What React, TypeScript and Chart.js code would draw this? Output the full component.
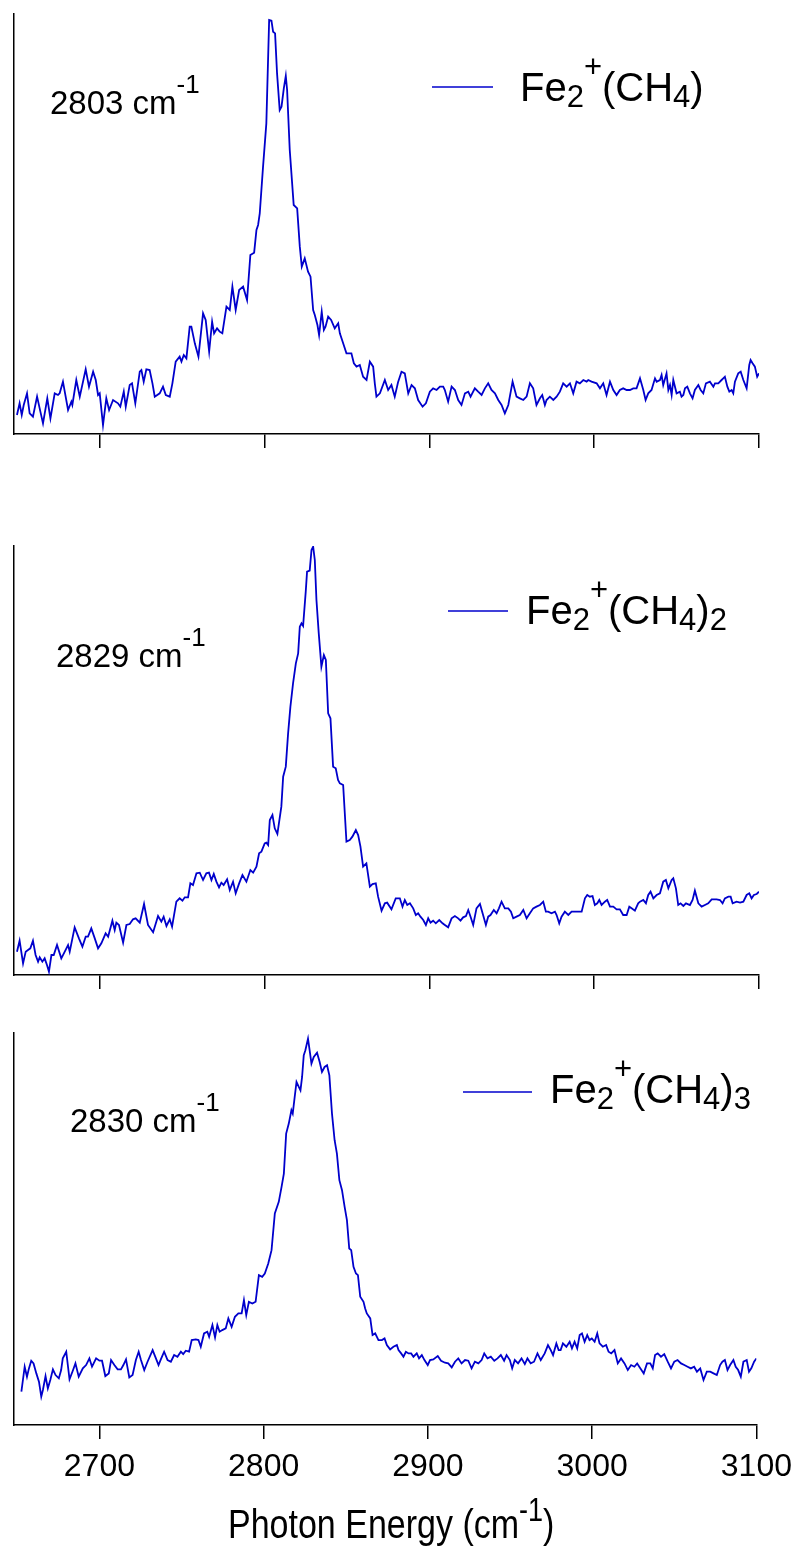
import React, { useEffect, useRef } from "react";
import { Chart, registerables } from "chart.js";

Chart.register(...registerables);

// ---------- data ----------
const X_MIN = 2648;
const X_MAX = 3100;
const X_TICKS = [2700, 2800, 2900, 3000, 3100];
const X_TITLE = "Photon Energy (cm";
const X_TITLE_SUP = "-1";
const X_TITLE_END = ")";

const PEAK_NOTES = ["2803 cm", "2829 cm", "2830 cm"];
const NOTE_SUP = "-1";
const SERIES_SUFFIX = ["", "2", "3"]; // Fe2+(CH4)n

// Panel 1: Fe2+(CH4)
const P1_X = [2649.8,2651.4,2652.7,2653.9,2655.9,2657.5,2659.5,2662.0,2664.0,2665.6,2668.2,2670.1,2672.7,2674.7,2675.7,2677.7,2680.8,2682.8,2683.4,2685.8,2687.9,2691.5,2693.5,2696.0,2697.6,2699.0,2700.0,2702.0,2704.0,2705.7,2708.1,2711.1,2712.5,2714.6,2715.8,2718.2,2719.6,2721.6,2724.3,2725.3,2726.7,2728.3,2730.3,2732.0,2733.4,2736.4,2738.4,2740.1,2742.5,2744.1,2746.1,2748.5,2749.6,2751.0,2752.6,2754.6,2755.6,2757.7,2759.9,2762.7,2764.3,2766.4,2768.2,2769.4,2771.2,2772.8,2774.4,2776.9,2778.9,2780.5,2782.5,2784.6,2787.0,2789.4,2791.4,2793.7,2795.1,2796.1,2797.1,2799.1,2801.1,2802.8,2804.2,2805.2,2806.4,2807.6,2809.2,2810.3,2811.7,2812.9,2813.7,2815.3,2817.7,2819.8,2821.4,2822.6,2824.4,2826.4,2827.9,2829.5,2830.5,2832.1,2833.1,2834.7,2836.0,2837.0,2838.6,2840.4,2842.6,2844.7,2845.7,2847.7,2849.7,2852.7,2854.2,2855.8,2857.8,2859.8,2861.9,2863.9,2865.9,2866.9,2867.9,2870.0,2873.0,2875.0,2877.0,2879.0,2881.0,
  2883.1,2885.1,2887.2,2889.2,2891.2,2893.2,2895.9,2897.9,2900.3,2902.3,2904.4,2906.4,2908.4,2909.4,2911.4,2913.5,2915.5,2917.5,2919.5,2921.6,2923.6,2925.0,2927.6,2929.6,2931.7,2933.7,2935.7,2937.7,2939.8,2941.8,2943.8,2945.8,2947.9,2950.5,2952.9,2954.9,2957.0,2959.0,2961.0,2963.0,2965.0,2967.1,2968.5,2970.1,2971.1,2973.1,2975.2,2977.2,2979.2,2981.2,2983.3,2985.3,2987.3,2989.3,2991.3,2993.4,2995.4,2996.4,2998.4,3001.5,3003.5,3005.5,3007.5,3009.6,3011.6,3013.6,3015.6,3017.6,3019.7,3021.7,3023.7,3025.7,3027.8,3029.8,3031.2,3032.8,3034.8,3036.9,3037.9,3039.9,3040.9,3041.9,3043.9,3045.0,3046.0,3047.0,3048.0,3050.0,3052.0,3053.0,3054.1,3055.1,3056.5,3058.1,3059.7,3061.1,3063.2,3064.6,3066.2,3067.8,3070.2,3072.3,3073.3,3075.3,3077.3,3078.3,3079.3,3080.8,3082.0,3083.4,3084.4,3085.4,3087.4,3088.9,3090.5,3092.5,3094.1,3094.9,3096.1,3097.5,3098.9,3100.0];
const P1_Y = [5.7,9.2,5.7,8.7,12.2,6.2,5.2,11.2,6.7,3.2,10.7,4.7,12.2,11.7,12.2,15.7,7.2,9.7,8.7,16.2,11.2,19.4,14.2,18.7,16.2,11.7,12.2,2.7,10.7,7.2,10.2,9.2,8.2,12.7,8.2,14.7,15.2,9.2,18.7,19.2,15.7,19.4,19.2,15.2,11.2,12.2,14.2,11.7,11.2,15.2,21.7,23.2,21.7,23.7,22.7,32.2,32.2,27.2,23.2,36.2,34.2,24.7,33.7,30.2,31.7,30.7,30.2,38.2,37.2,44.2,37.2,43.2,44.2,40.2,53.7,54.4,61.2,62.7,66.2,80.2,93.2,124.2,124.0,120.7,120.2,108.2,97.2,98.2,103.7,107.4,103.2,85.2,68.7,67.7,56.2,50.2,52.7,48.7,47.2,37.2,35.7,32.7,29.7,36.7,31.2,32.2,35.2,34.2,31.7,33.2,30.2,27.2,24.2,24.2,21.2,20.2,20.7,17.2,16.2,21.7,20.2,15.2,11.2,12.2,16.2,13.2,14.7,11.2,15.5,
  18.7,18.2,12.2,14.7,13.7,10.2,8.2,9.2,12.7,13.7,13.2,14.2,14.2,13.2,9.7,14.2,13.2,10.2,8.7,12.2,12.7,11.2,13.7,12.7,11.7,13.7,15.2,13.2,12.2,10.2,8.7,6.2,8.7,15.7,11.2,10.7,10.2,11.2,15.2,13.7,8.7,10.7,11.7,8.7,10.2,11.2,10.2,11.2,12.7,15.2,14.2,15.2,12.2,15.7,15.2,16.2,15.7,16.2,15.7,15.2,13.7,15.2,11.7,15.7,13.2,11.7,13.2,13.7,13.2,13.2,13.7,13.7,16.7,13.2,10.2,12.2,13.2,16.7,15.7,16.2,17.7,14.7,18.2,13.2,14.7,11.7,16.2,12.2,12.7,11.2,11.7,13.7,14.2,12.2,10.7,13.2,14.7,13.2,12.2,15.2,15.7,14.2,15.2,15.2,16.2,16.7,17.2,14.2,12.7,13.2,12.2,15.7,18.2,18.7,16.2,13.7,20.7,22.2,21.2,20.2,17.2,18.2];

// Panel 2: Fe2+(CH4)2
const P2_X = [2649.8,2651.4,2653.5,2655.1,2656.5,2657.9,2659.5,2661.1,2662.6,2663.6,2665.2,2666.6,2668.0,2669.2,2670.7,2672.1,2674.1,2676.7,2678.8,2680.8,2681.8,2684.8,2687.4,2689.5,2691.5,2692.9,2694.9,2697.0,2699.0,2701.0,2703.6,2705.1,2707.7,2709.1,2710.1,2711.7,2714.2,2716.2,2718.2,2720.2,2721.8,2724.3,2726.9,2729.3,2732.4,2735.4,2737.4,2738.8,2740.5,2742.5,2743.9,2746.5,2748.5,2750.2,2751.6,2753.6,2755.0,2756.6,2758.7,2760.7,2762.7,2764.7,2766.3,2767.8,2769.2,2770.8,2772.4,2773.8,2775.2,2777.3,2778.9,2780.9,2782.5,2784.6,2786.6,2789.0,2791.4,2793.1,2795.1,2796.7,2798.1,2800.1,2801.1,2802.2,2803.2,2804.8,2806.2,2807.8,2810.2,2811.3,2812.9,2814.3,2815.7,2817.3,2819.0,2820.4,2821.4,2822.4,2823.4,2825.0,2825.8,2827.4,2828.5,2829.5,2830.5,2831.5,2832.9,2834.5,2836.0,2837.2,2838.6,2840.0,2841.6,2843.2,2844.6,2845.7,2847.7,2849.7,2851.7,2853.3,2855.4,2856.8,2858.2,2859.8,2861.8,2863.9,2865.5,2867.5,2868.9,2871.0,2873.0,2874.4,2877.0,2879.6,
  2882.1,2883.7,2885.1,2886.6,2888.2,2890.2,2891.8,2893.2,2894.6,2896.3,2897.9,2899.3,2900.7,2902.3,2903.9,2906.0,2908.0,2909.4,2911.4,2913.5,2915.5,2917.5,2918.9,2920.5,2922.2,2923.6,2925.0,2926.6,2928.6,2930.7,2932.3,2934.3,2935.7,2937.1,2939.1,2940.8,2942.2,2943.8,2945.8,2947.9,2949.5,2950.9,2952.9,2954.9,2957.0,2959.0,2961.0,2963.0,2965.0,2967.1,2969.1,2970.7,2972.1,2974.1,2976.2,2977.2,2978.8,2980.2,2982.2,2984.3,2986.3,2988.3,2990.3,2992.4,2994.4,2995.8,2997.4,2999.0,3000.4,3001.9,3003.1,3004.5,3006.5,3007.9,3009.6,3011.6,3013.6,3015.6,3017.6,3019.7,3021.3,3022.7,3024.7,3026.7,3027.8,3029.8,3031.4,3032.8,3034.2,3035.9,3037.9,3039.9,3041.9,3043.5,3045.0,3047.0,3048.0,3049.6,3051.0,3052.4,3054.1,3055.7,3058.1,3059.7,3061.1,3063.2,3065.2,3067.2,3069.2,3071.3,3074.3,3076.3,3077.9,3079.3,3081.4,3082.8,3084.0,3086.4,3088.5,3090.5,3092.5,3094.1,3095.5,3096.9,3098.6,3100.0];
const P2_Y = [7.0,10.3,3.5,7.0,7.5,8.0,10.3,6.0,4.0,5.3,4.0,5.0,3.0,1.0,6.0,6.0,9.0,5.0,7.0,9.0,7.0,14.3,11.0,8.5,11.5,11.5,14.0,11.0,8.0,9.5,12.5,11.5,16.3,13.5,15.7,15.0,9.7,15.0,15.3,16.7,17.0,15.7,21.3,15.0,12.8,17.7,16.0,17.5,14.7,16.7,14.5,22.0,23.0,22.3,23.3,23.3,27.5,27.0,30.5,30.7,28.5,30.5,30.7,28.5,30.3,28.0,26.3,27.7,27.0,28.7,25.5,28.0,24.5,27.5,30.0,28.0,31.5,30.7,32.5,36.5,37.0,39.5,39.7,39.0,46.5,48.0,44.0,42.3,50.5,59.5,62.5,72.5,80.5,87.5,93.5,96.5,104.5,105.5,104.7,115.0,121.0,121.3,127.5,128.5,124.5,112.5,102.5,92.5,96.0,94.5,78.5,77.0,62.5,62.0,58.5,57.5,57.0,40.0,40.5,41.5,43.5,42.0,38.5,32.5,33.5,26.5,27.3,27.5,23.5,19.3,21.5,21.7,19.7,23.0,
  23.0,20.5,22.5,21.0,21.5,20.0,18.0,18.5,17.5,16.5,15.0,17.0,15.7,16.3,15.5,16.5,15.5,15.0,14.3,17.0,17.7,17.0,16.3,17.3,17.7,19.5,17.5,15.0,20.0,21.3,18.5,15.0,17.5,18.0,19.5,18.5,20.0,22.0,20.0,20.0,19.0,17.0,17.5,18.0,19.5,17.0,18.5,20.0,20.5,21.0,22.0,19.0,19.0,18.5,19.0,18.0,15.5,17.5,19.0,18.0,19.0,19.0,19.0,19.0,23.0,24.0,23.5,23.7,21.0,21.5,22.5,21.0,22.0,22.5,20.5,20.5,19.7,19.7,18.0,18.0,20.5,20.0,19.3,21.5,22.0,22.5,21.5,24.0,25.0,23.0,24.0,24.5,28.0,28.5,26.0,28.5,29.0,26.0,21.0,21.5,20.7,21.5,21.0,22.5,25.3,21.5,20.5,21.0,21.5,22.7,22.7,22.5,21.5,23.0,23.5,23.5,21.5,22.0,21.7,22.0,24.0,24.5,23.0,24.0,24.3,25.0];

// Panel 3: Fe2+(CH4)3
const P3_X = [2652.5,2654.5,2655.9,2657.1,2658.5,2659.9,2661.6,2663.2,2664.6,2665.6,2667.2,2668.6,2670.1,2671.7,2673.3,2675.3,2676.7,2677.7,2679.8,2681.8,2683.8,2685.4,2687.4,2689.9,2691.9,2693.9,2695.5,2698.0,2700.0,2701.6,2703.6,2705.7,2707.1,2709.1,2711.1,2713.1,2714.6,2716.2,2718.2,2720.2,2722.2,2723.9,2725.3,2727.3,2729.3,2732.4,2734.4,2736.0,2737.4,2739.4,2741.5,2743.5,2745.5,2747.5,2749.6,2751.0,2752.6,2754.6,2756.2,2758.7,2760.3,2761.7,2763.7,2765.7,2766.8,2768.8,2770.4,2771.8,2773.2,2774.8,2776.9,2778.5,2780.5,2782.5,2784.6,2786.6,2788.0,2789.4,2791.0,2793.1,2795.1,2797.1,2799.1,2800.7,2802.8,2804.8,2806.8,2809.2,2810.9,2812.3,2813.7,2815.3,2816.9,2817.7,2818.9,2820.0,2821.4,2822.4,2823.4,2824.4,2825.4,2827.0,2828.0,2829.1,2830.5,2832.5,2834.1,2835.5,2837.1,2838.6,2840.0,2841.6,2843.2,2844.6,2846.1,2847.7,2849.3,2850.7,2852.1,2853.3,2854.7,2856.2,2857.4,2858.8,2860.8,2861.8,2862.8,2864.9,2866.3,2867.9,2869.9,2872.0,2873.6,2875.0,2877.0,2879.0,2881.1,
  2882.1,2883.7,2885.1,2886.6,2888.2,2889.8,2891.2,2893.2,2894.6,2896.3,2897.9,2899.9,2901.3,2903.3,2906.0,2908.0,2910.4,2912.4,2914.5,2916.5,2918.5,2920.5,2922.6,2924.6,2926.6,2928.6,2930.7,2932.7,2934.3,2936.3,2938.3,2940.4,2942.4,2944.4,2946.4,2947.9,2949.9,2951.3,2952.9,2954.9,2957.0,2959.0,2960.6,2962.6,2964.6,2966.7,2968.7,2971.1,2973.1,2974.8,2976.2,2978.2,2979.6,2980.8,2982.2,2984.3,2986.3,2987.7,2989.3,2990.9,2992.4,2993.8,2995.4,2997.0,2998.4,2999.8,3001.5,3003.1,3004.5,3006.5,3008.5,3010.0,3011.6,3013.6,3015.6,3017.6,3019.7,3021.7,3023.7,3025.7,3027.4,3029.4,3031.4,3033.4,3035.4,3036.9,3038.3,3039.9,3041.9,3043.9,3046.0,3048.0,3050.0,3052.0,3054.1,3056.1,3058.1,3060.1,3062.1,3063.8,3065.8,3067.8,3069.8,3071.9,3073.9,3075.9,3077.9,3079.3,3080.8,3082.4,3084.0,3086.0,3087.4,3088.9,3090.5,3092.1,3094.1,3095.5,3096.9,3098.6,3100.0];
const P3_Y = [10.0,17.5,14.5,17.0,19.3,18.5,15.5,13.0,8.5,10.5,14.7,11.0,13.5,16.7,15.0,14.0,16.5,20.0,22.0,13.7,16.3,18.5,14.5,17.0,18.0,20.0,17.5,20.0,19.3,19.3,14.7,15.5,19.5,18.0,16.7,16.7,18.0,19.7,14.3,15.0,19.5,22.0,19.5,16.5,19.0,22.5,20.0,18.0,19.7,22.0,19.5,19.0,21.0,20.5,22.0,21.3,22.3,22.0,25.5,25.7,25.5,23.5,27.5,28.0,26.5,30.0,26.3,30.0,28.0,28.5,29.0,32.0,29.5,32.5,33.5,33.5,37.5,33.0,37.0,36.5,37.0,45.0,44.5,45.5,48.5,52.5,63.5,67.0,71.5,75.5,87.5,90.5,94.5,93.5,98.5,103.0,101.5,100.5,104.5,111.0,112.5,116.0,112.5,108.5,110.5,111.8,109.0,106.0,107.5,108.0,105.0,93.5,85.5,81.5,73.5,70.5,65.5,61.5,53.0,52.5,47.5,45.5,45.0,38.5,37.0,35.0,33.5,32.0,27.0,27.5,25.5,25.5,26.0,24.0,22.7,23.5,24.0,
  22.5,21.5,20.5,22.0,21.5,21.5,20.5,21.5,20.0,21.0,19.5,18.0,19.5,19.7,20.7,19.3,18.7,18.5,17.3,19.0,20.0,18.5,19.5,19.3,17.0,19.0,18.5,19.5,21.5,20.0,20.5,19.3,20.0,21.0,19.3,21.0,19.5,17.0,19.5,18.5,20.0,18.3,20.0,18.5,19.0,21.5,19.5,21.5,24.0,22.5,21.0,24.5,22.5,22.5,24.5,23.5,25.0,23.0,25.0,23.0,27.0,27.5,25.0,27.0,25.5,26.0,25.0,27.5,24.5,23.5,24.0,22.0,21.5,22.5,18.5,20.0,18.5,16.5,18.0,17.5,18.5,17.0,15.5,18.5,18.5,17.0,21.0,21.5,20.5,21.3,19.0,17.0,19.0,19.5,18.5,18.0,17.5,17.0,17.5,16.0,17.0,13.5,16.0,16.0,15.5,15.0,18.0,19.0,19.5,16.5,18.0,19.5,17.5,16.5,14.5,19.0,19.5,16.0,17.0,19.0,20.0];

const SERIES_X = [P1_X, P2_X, P3_X];
const SERIES_Y = [P1_Y, P2_Y, P3_Y];
const Y_MAX = [126, 128.7, 117.7];

// ---------- style / layout ----------
const FONT = '"Liberation Sans", Arial, Helvetica, sans-serif';
const LINE_COLOR = "#0000CC";
const AXIS_COLOR = "#000000";
const W = 801;

type Piece = [string, number, number]; // text, font size, baseline offset (px)

const PANELS = [
  { top: 0, height: 480, padTop: 14, padBottom: 32, axisH: 14, labels: false,
    leg: { x1: 432, x2: 493, ly: 87, tx: 520, ty: 101 }, note: { x: 50, y: 114 } },
  { top: 480, height: 520, padTop: 66, padBottom: 11, axisH: 14, labels: false,
    leg: { x1: 448, x2: 508, ly: 611, tx: 526, ty: 624 }, note: { x: 56, y: 667 } },
  { top: 1000, height: 551, padTop: 33, padBottom: 56, axisH: 70, labels: true,
    leg: { x1: 463, x2: 532, ly: 1092, tx: 550, ty: 1103 }, note: { x: 70, y: 1132 } },
];
const TITLE_POS = { x: 228, y: 1538, sy: 1.2 };

function legendPieces(i: number): Piece[] {
  const p: Piece[] = [["Fe", 40, 0], ["2", 31, 6], ["+", 31, -24], ["(CH", 40, 0], ["4", 31, 6], [")", 40, 0]];
  if (SERIES_SUFFIX[i]) p.push([SERIES_SUFFIX[i], 31, 6]);
  return p;
}

function drawRich(ctx: CanvasRenderingContext2D, x: number, y: number, pieces: Piece[], sy = 1) {
  ctx.save();
  ctx.translate(x, y);
  ctx.scale(1, sy);
  ctx.fillStyle = "#000";
  ctx.textBaseline = "alphabetic";
  ctx.textAlign = "left";
  let cx = 0;
  for (const [t, size, dy] of pieces) {
    ctx.font = `${size}px ${FONT}`;
    ctx.fillText(t, cx, dy / sy);
    cx += ctx.measureText(t).width;
  }
  ctx.restore();
}

function Panel({ idx }: { idx: number }) {
  const ref = useRef<HTMLCanvasElement>(null);
  const cfg = PANELS[idx];
  useEffect(() => {
    const xs = SERIES_X[idx];
    const ys = SERIES_Y[idx];
    const overlay = {
      id: "overlay" + idx,
      afterDraw(chart: any) {
        const ctx: CanvasRenderingContext2D = chart.ctx;
        const off = cfg.top;
        ctx.save();
        ctx.strokeStyle = LINE_COLOR;
        ctx.lineWidth = 1.7;
        ctx.beginPath();
        ctx.moveTo(cfg.leg.x1, cfg.leg.ly - off);
        ctx.lineTo(cfg.leg.x2, cfg.leg.ly - off);
        ctx.stroke();
        ctx.restore();
        drawRich(ctx, cfg.leg.tx, cfg.leg.ty - off, legendPieces(idx));
        drawRich(ctx, cfg.note.x, cfg.note.y - off, [[PEAK_NOTES[idx], 33, 0], [NOTE_SUP, 26, -21]]);
        if (cfg.labels) {
          drawRich(ctx, TITLE_POS.x, TITLE_POS.y - off,
            [[X_TITLE, 34, 0], [X_TITLE_SUP, 27, -17], [X_TITLE_END, 34, 0]], TITLE_POS.sy);
        }
      },
    };
    const chart = new Chart(ref.current as HTMLCanvasElement, {
      type: "line",
      data: {
        datasets: [{
          data: xs.map((x, i) => ({ x, y: ys[i] })),
          borderColor: LINE_COLOR,
          borderWidth: 1.8,
          pointRadius: 0,
          tension: 0,
          fill: false,
        }],
      },
      options: {
        animation: false,
        responsive: false,
        maintainAspectRatio: false,
        layout: { padding: { left: 14, right: W - 759, top: cfg.padTop, bottom: cfg.padBottom } },
        plugins: { legend: { display: false }, tooltip: { enabled: false } },
        scales: {
          x: {
            type: "linear",
            min: X_MIN,
            max: X_MAX,
            afterBuildTicks: (axis: any) => { axis.ticks = X_TICKS.map((v) => ({ value: v })); },
            afterFit: (s: any) => { s.height = cfg.axisH; },
            grid: { display: true, drawOnChartArea: false, drawTicks: true, tickLength: 14, color: AXIS_COLOR, lineWidth: 1.5 },
            border: { display: true, color: AXIS_COLOR, width: 1.5 },
            ticks: {
              display: cfg.labels,
              color: "#000",
              font: { family: FONT, size: 32 },
              padding: 9,
              maxRotation: 0,
              autoSkip: false,
              callback: (v: any) => String(v),
            },
          },
          y: {
            type: "linear",
            min: 0,
            max: Y_MAX[idx],
            afterFit: (s: any) => { s.width = 0; },
            grid: { display: false, drawTicks: false },
            border: { display: true, color: AXIS_COLOR, width: 1.5 },
            ticks: { display: false },
          },
        },
      } as any,
      plugins: [overlay],
    });
    return () => chart.destroy();
  }, []);
  return (
    <canvas
      ref={ref}
      width={W}
      height={cfg.height}
      style={{ position: "absolute", left: 0, top: cfg.top, width: W, height: cfg.height }}
    />
  );
}

export default function App() {
  return (
    <div style={{ position: "absolute", left: 0, top: 0, width: W, height: 1551, background: "#fff", overflow: "hidden" }}>
      <Panel idx={0} />
      <Panel idx={1} />
      <Panel idx={2} />
    </div>
  );
}
